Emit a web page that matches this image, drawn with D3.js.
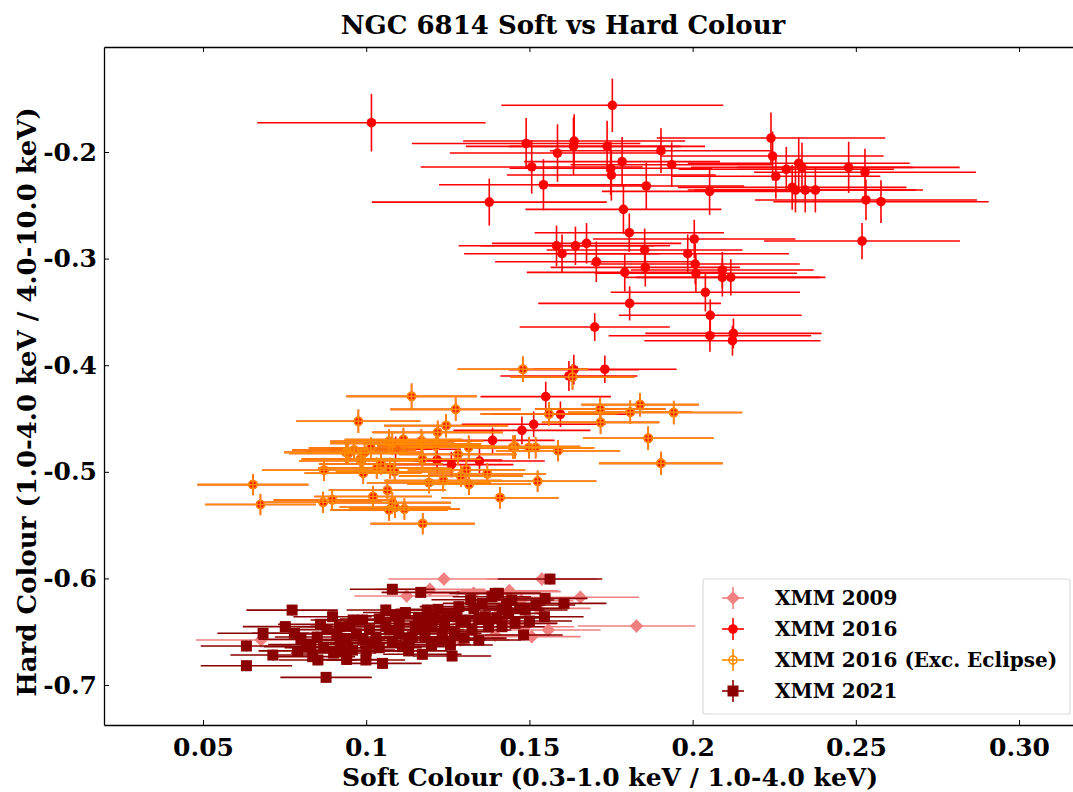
<!DOCTYPE html>
<html>
<head>
<meta charset="utf-8">
<script src="https://cdn.jsdelivr.net/npm/d3@7"></script>
<style>
  body { margin: 0; background: #fff; }
  text { font-family: "DejaVu Serif", serif; font-weight: bold; fill: #000; }
</style>
</head>
<body>
<div id="chart"></div>
<script>
// each point: [soft colour, hard colour, soft err, hard err]
var xmm2009 = [
  [0.1238,-0.6006,0.017,0.006],[0.1124,-0.6165,0.016,0.006],[0.1195,-0.6103,0.017,0.006],
  [0.0678,-0.6578,0.020,0.007],[0.1329,-0.6140,0.016,0.006],[0.1243,-0.6359,0.015,0.006],
  [0.1436,-0.6124,0.016,0.006],[0.1289,-0.6578,0.015,0.006],[0.1395,-0.6531,0.016,0.006],
  [0.1538,-0.6006,0.017,0.006],[0.1439,-0.6115,0.015,0.006],[0.1475,-0.6208,0.016,0.006],
  [0.1656,-0.6177,0.018,0.006],[0.1527,-0.6281,0.016,0.006],[0.1395,-0.6359,0.015,0.006],
  [0.1424,-0.6422,0.016,0.006],[0.1828,-0.6447,0.018,0.006],[0.1507,-0.6546,0.015,0.006],
  [0.1558,-0.6484,0.016,0.006],[0.1487,-0.6453,0.015,0.006]
];

// 2016 points that are not in the eclipse-excluded set
var xmm2016 = [
  [0.1016,-0.1725,0.035,0.027],[0.1490,-0.1920,0.035,0.024],[0.1507,-0.2140,0.034,0.025],
  [0.1543,-0.2307,0.032,0.024],[0.1586,-0.2010,0.033,0.027],[0.1637,-0.1897,0.034,0.025],
  [0.1635,-0.1947,0.033,0.027],[0.1377,-0.2470,0.036,0.022],[0.1583,-0.2880,0.030,0.019],
  [0.1600,-0.2954,0.030,0.018],[0.1641,-0.2880,0.029,0.018],[0.1675,-0.2857,0.029,0.019],
  [0.1705,-0.3030,0.031,0.019],[0.1700,-0.3642,0.023,0.013],[0.1754,-0.1562,0.034,0.025],
  [0.1738,-0.1947,0.030,0.024],[0.1749,-0.2153,0.031,0.025],[0.1751,-0.2216,0.032,0.024],
  [0.1784,-0.2090,0.030,0.023],[0.1903,-0.1988,0.034,0.021],[0.1936,-0.2119,0.031,0.021],
  [0.1858,-0.2319,0.030,0.022],[0.2052,-0.2369,0.033,0.022],[0.1788,-0.2538,0.030,0.023],
  [0.1806,-0.2757,0.029,0.018],[0.2240,-0.1869,0.035,0.024],[0.2245,-0.2038,0.034,0.023],
  [0.2255,-0.2228,0.032,0.021],[0.2287,-0.2162,0.033,0.021],[0.2325,-0.2106,0.034,0.024],
  [0.2335,-0.2144,0.034,0.023],[0.2305,-0.2332,0.035,0.021],[0.2315,-0.2357,0.033,0.021],
  [0.2345,-0.2357,0.034,0.021],[0.2376,-0.2357,0.033,0.021],[0.2478,-0.2144,0.034,0.024],
  [0.2528,-0.2190,0.034,0.022],[0.2531,-0.2450,0.034,0.019],[0.2577,-0.2466,0.033,0.020],
  [0.2519,-0.2835,0.030,0.017],[0.1792,-0.3129,0.030,0.018],[0.1853,-0.2919,0.030,0.020],
  [0.1855,-0.3082,0.029,0.018],[0.1985,-0.2954,0.031,0.018],[0.2005,-0.2816,0.031,0.018],
  [0.2008,-0.3051,0.032,0.019],[0.2010,-0.3138,0.031,0.018],[0.2039,-0.3316,0.029,0.018],
  [0.2091,-0.3107,0.028,0.017],[0.2091,-0.3176,0.030,0.018],[0.2117,-0.3176,0.029,0.017],
  [0.1807,-0.3420,0.028,0.016],[0.2054,-0.3532,0.028,0.015],[0.2053,-0.3723,0.031,0.015],
  [0.2125,-0.3701,0.027,0.014],[0.2122,-0.3770,0.027,0.014],
  [0.1636,-0.4042,0.020,0.014],[0.1621,-0.4101,0.021,0.014],[0.1731,-0.4038,0.022,0.013],
  [0.1550,-0.4295,0.020,0.014],[0.1595,-0.4460,0.021,0.012],[0.1513,-0.4554,0.022,0.012],
  [0.1477,-0.4611,0.021,0.013],[0.1387,-0.4705,0.019,0.012],[0.1347,-0.4899,0.020,0.012],
  [0.1217,-0.4889,0.020,0.012],[0.1261,-0.4933,0.019,0.012],[0.1090,-0.4789,0.020,0.012]
];

// 2016 excluding eclipse
var xmm2016exc = [
  [0.1480,-0.4038,0.020,0.012],[0.1632,-0.4110,0.019,0.012],[0.1560,-0.4458,0.021,0.011],
  [0.1717,-0.4411,0.020,0.011],[0.1718,-0.4536,0.018,0.011],[0.1809,-0.4441,0.019,0.011],
  [0.1839,-0.4370,0.018,0.011],[0.1942,-0.4444,0.021,0.011],[0.1864,-0.4685,0.020,0.011],
  [0.1903,-0.4921,0.019,0.011],[0.1274,-0.4414,0.020,0.011],[0.1245,-0.4567,0.019,0.011],
  [0.1219,-0.4630,0.020,0.011],[0.1314,-0.4770,0.019,0.011],[0.1281,-0.4836,0.018,0.010],
  [0.1449,-0.4770,0.019,0.011],[0.1456,-0.4764,0.020,0.011],[0.1499,-0.4774,0.019,0.010],
  [0.1519,-0.4774,0.018,0.010],[0.1588,-0.4802,0.019,0.010],[0.1307,-0.4980,0.018,0.010],
  [0.1290,-0.5040,0.019,0.010],[0.1371,-0.5018,0.018,0.010],[0.1192,-0.5102,0.019,0.010],
  [0.1236,-0.5083,0.018,0.010],[0.1315,-0.5117,0.019,0.010],[0.1525,-0.5089,0.018,0.010],
  [0.1410,-0.5243,0.018,0.010],[0.1139,-0.4292,0.020,0.012],[0.0976,-0.4526,0.019,0.011],
  [0.1070,-0.4714,0.018,0.011],[0.1080,-0.4733,0.019,0.011],[0.1114,-0.4697,0.018,0.011],
  [0.1169,-0.4711,0.019,0.011],[0.1172,-0.4740,0.018,0.011],[0.1213,-0.4758,0.018,0.011],
  [0.0938,-0.4818,0.019,0.010],[0.0945,-0.4827,0.018,0.010],[0.0963,-0.4795,0.019,0.010],
  [0.0995,-0.4818,0.018,0.010],[0.1014,-0.4777,0.019,0.010],[0.0982,-0.4880,0.018,0.010],
  [0.0984,-0.4896,0.019,0.010],[0.1172,-0.4882,0.018,0.010],[0.1045,-0.4926,0.019,0.010],
  [0.1032,-0.4967,0.018,0.010],[0.1073,-0.4967,0.019,0.010],[0.1087,-0.4999,0.018,0.010],
  [0.0871,-0.4985,0.019,0.010],[0.0991,-0.5013,0.018,0.010],[0.0653,-0.5120,0.017,0.010],
  [0.1065,-0.5173,0.018,0.010],[0.1021,-0.5232,0.018,0.010],[0.0676,-0.5307,0.017,0.010],
  [0.0868,-0.5286,0.018,0.010],[0.0896,-0.5264,0.018,0.010],[0.1080,-0.5289,0.018,0.010],
  [0.1088,-0.5333,0.017,0.010],[0.1070,-0.5358,0.018,0.010],[0.1117,-0.5349,0.017,0.010],
  [0.1173,-0.5486,0.016,0.010]
];

var xmm2021 = [
  [0.1080,-0.6102,0.013,0.005],[0.1167,-0.6131,0.012,0.005],[0.0773,-0.6297,0.014,0.005],
  [0.0684,-0.6515,0.014,0.005],[0.0633,-0.6634,0.014,0.005],[0.0633,-0.6819,0.014,0.005],
  [0.0877,-0.6928,0.014,0.005],[0.0714,-0.6719,0.013,0.005],[0.0752,-0.6452,0.013,0.005],
  [0.0852,-0.6765,0.012,0.005],[0.1050,-0.6797,0.012,0.005],[0.1172,-0.6712,0.012,0.005],
  [0.1258,-0.6625,0.013,0.005],[0.1263,-0.6728,0.012,0.005],[0.1345,-0.6578,0.013,0.005],
  [0.1416,-0.6453,0.013,0.005],[0.1563,-0.6006,0.016,0.005],[0.1548,-0.6187,0.013,0.005],
  [0.1606,-0.6234,0.013,0.005],[0.1546,-0.6359,0.012,0.005],[0.1482,-0.6531,0.012,0.005],
  [0.1395,-0.6140,0.014,0.005],[0.1405,-0.6140,0.013,0.005],[0.1416,-0.6296,0.013,0.005],
  [0.1278,-0.6359,0.012,0.005],[0.0780,-0.6515,0.013,0.005],[0.0816,-0.6640,0.013,0.005],
  [0.0836,-0.6734,0.013,0.005],[0.0897,-0.6359,0.012,0.005],[0.0918,-0.6453,0.013,0.005],
  [0.0938,-0.6578,0.012,0.005],[0.0958,-0.6672,0.013,0.005],[0.0989,-0.6390,0.012,0.005],
  [0.0999,-0.6765,0.012,0.005],[0.1019,-0.6609,0.013,0.005],[0.1060,-0.6296,0.012,0.005],
  [0.1070,-0.6484,0.013,0.005],[0.1101,-0.6421,0.012,0.005],[0.1111,-0.6640,0.013,0.005],
  [0.1141,-0.6547,0.012,0.005],[0.1187,-0.6296,0.013,0.005],[0.1202,-0.6453,0.012,0.005],
  [0.1233,-0.6578,0.013,0.005],[0.1284,-0.6265,0.012,0.005],[0.1304,-0.6390,0.013,0.005],
  [0.1324,-0.6484,0.012,0.005],[0.1365,-0.6359,0.013,0.005],[0.1385,-0.6172,0.012,0.005],
  [0.1446,-0.6203,0.013,0.005],[0.1355,-0.6234,0.012,0.005],[0.1375,-0.6453,0.013,0.005],
  [0.1436,-0.6328,0.012,0.005],[0.1456,-0.6422,0.013,0.005],[0.1233,-0.6515,0.012,0.005],
  [0.1487,-0.6296,0.013,0.005],[0.1345,-0.6375,0.012,0.005],[0.0850,-0.6550,0.013,0.005],
  [0.0880,-0.6480,0.012,0.005],[0.0920,-0.6600,0.013,0.005],[0.0950,-0.6450,0.012,0.005],
  [0.0970,-0.6520,0.013,0.005],[0.1010,-0.6480,0.012,0.005],[0.1030,-0.6550,0.013,0.005],
  [0.1040,-0.6380,0.012,0.005],[0.1080,-0.6600,0.013,0.005],[0.1100,-0.6520,0.012,0.005],
  [0.1120,-0.6320,0.013,0.005],[0.1150,-0.6450,0.012,0.005],[0.1180,-0.6550,0.013,0.005],
  [0.1210,-0.6370,0.012,0.005],[0.1240,-0.6430,0.013,0.005],[0.1270,-0.6500,0.012,0.005],
  [0.1290,-0.6400,0.013,0.005],[0.1330,-0.6280,0.012,0.005],[0.0800,-0.6570,0.013,0.005],
  [0.0790,-0.6680,0.012,0.005],[0.0900,-0.6700,0.013,0.005],[0.0940,-0.6760,0.012,0.005],
  [0.1000,-0.6680,0.013,0.005],[0.1130,-0.6680,0.012,0.005],[0.1160,-0.6370,0.013,0.005],
  [0.1200,-0.6620,0.012,0.005],[0.1470,-0.6280,0.013,0.005],[0.1520,-0.6250,0.012,0.005],
  [0.1500,-0.6400,0.013,0.005],[0.0860,-0.6430,0.013,0.005],[0.0910,-0.6520,0.012,0.005],
  [0.0960,-0.6390,0.013,0.005],[0.0990,-0.6580,0.012,0.005],[0.1040,-0.6650,0.013,0.005],
  [0.1060,-0.6450,0.012,0.005],[0.1090,-0.6350,0.013,0.005],[0.1130,-0.6560,0.012,0.005],
  [0.1170,-0.6480,0.013,0.005],[0.1190,-0.6400,0.012,0.005],[0.1220,-0.6290,0.013,0.005],
  [0.1250,-0.6350,0.012,0.005],[0.1300,-0.6560,0.013,0.005],[0.1320,-0.6200,0.012,0.005],
  [0.1400,-0.6370,0.013,0.005],[0.1430,-0.6250,0.012,0.005],[0.0830,-0.6620,0.013,0.005],
  [0.0870,-0.6650,0.012,0.005],[0.0930,-0.6680,0.013,0.005]
];

var xTicks = [0.05, 0.1, 0.15, 0.2, 0.25, 0.30];
var xTickLabels = ["0.05", "0.1", "0.15", "0.2", "0.25", "0.30"];
var yTicks = [-0.2, -0.3, -0.4, -0.5, -0.6, -0.7];
var yTickLabels = ["-0.2", "-0.3", "-0.4", "-0.5", "-0.6", "-0.7"];
var seriesNames = ["XMM 2009", "XMM 2016", "XMM 2016 (Exc. Eclipse)", "XMM 2021"];
var seriesColors = ["#f08080", "#ff0000", "#ff8c00", "#8b0000"];

var margin = {top: 47, right: 0, bottom: 67, left: 104},
    width = 1116 - margin.left,
    height = 725 - margin.top;

var svg = d3.select("#chart")
  .append("svg")
    .attr("width", 1073)
    .attr("height", 792)
  .append("g")
    .attr("transform", "translate(" + margin.left + "," + margin.top + ")");

var x = d3.scaleLinear().domain([0.01967, 0.3297]).range([0, width]);
var y = d3.scaleLinear().domain([-0.7375, -0.1015]).range([height, 0]);

// error bars and markers for one series
function drawSeries(data, color, marker) {
  var g = svg.append("g");
  g.selectAll(".ex").data(data).enter().append("line")
    .attr("x1", function(d) { return x(d[0] - d[2]); })
    .attr("x2", function(d) { return x(d[0] + d[2]); })
    .attr("y1", function(d) { return y(d[1]); })
    .attr("y2", function(d) { return y(d[1]); })
    .attr("stroke", color).attr("stroke-width", 1.6);
  g.selectAll(".ey").data(data).enter().append("line")
    .attr("x1", function(d) { return x(d[0]); })
    .attr("x2", function(d) { return x(d[0]); })
    .attr("y1", function(d) { return y(d[1] - d[3]); })
    .attr("y2", function(d) { return y(d[1] + d[3]); })
    .attr("stroke", color).attr("stroke-width", 1.6);
  g.selectAll(".m").data(data).enter().append("path")
    .attr("transform", function(d) { return "translate(" + x(d[0]) + "," + y(d[1]) + ")"; })
    .attr("d", marker.d)
    .attr("fill", marker.fill)
    .attr("stroke", marker.stroke)
    .attr("stroke-width", marker.sw);
}

var markers = [
  {d: "M0,-6.8L6.8,0L0,6.8L-6.8,0Z", fill: seriesColors[0], stroke: "none", sw: 0},
  {d: d3.symbol(d3.symbolCircle, Math.PI * 4.8 * 4.8)(), fill: seriesColors[1], stroke: "none", sw: 0},
  {d: d3.symbol(d3.symbolCircle, Math.PI * 4 * 4)(), fill: "none", stroke: seriesColors[2], sw: 1.6},
  {d: "M-5.5,-5.5H5.5V5.5H-5.5Z", fill: seriesColors[3], stroke: "none", sw: 0}
];

drawSeries(xmm2009, seriesColors[0], markers[0]);
drawSeries(xmm2016.concat(xmm2016exc), seriesColors[1], markers[1]);
drawSeries(xmm2016exc, seriesColors[2], markers[2]);
drawSeries(xmm2021, seriesColors[3], markers[3]);

// axes: ticks point inward
var xAxis = svg.append("g")
  .attr("transform", "translate(0," + height + ")")
  .call(d3.axisBottom(x).tickValues(xTicks).tickSizeInner(-5).tickSizeOuter(0)
    .tickFormat(function(d, i) { return xTickLabels[i]; }));
xAxis.selectAll("text").attr("y", 13).attr("dy", "0.71em").style("font-size", "25px");

svg.append("g")
  .call(d3.axisTop(x).tickValues(xTicks).tickSizeInner(-5).tickSizeOuter(0).tickFormat(""));

var yAxis = svg.append("g")
  .call(d3.axisLeft(y).tickValues(yTicks).tickSizeInner(-5).tickSizeOuter(0)
    .tickFormat(function(d, i) { return yTickLabels[i]; }));
yAxis.selectAll("text").attr("x", -7).style("font-size", "25px");

svg.selectAll(".domain").attr("stroke", "#000").attr("stroke-width", 1.3);
svg.selectAll(".tick line").attr("stroke", "#000").attr("stroke-width", 1);

// title and labels
svg.append("text")
  .attr("x", 563 - margin.left).attr("y", 34 - margin.top)
  .attr("text-anchor", "middle").style("font-size", "26px")
  .text("NGC 6814 Soft vs Hard Colour");

svg.append("text")
  .attr("x", 610 - margin.left).attr("y", 786 - margin.top)
  .attr("text-anchor", "middle").style("font-size", "25px")
  .text("Soft Colour (0.3-1.0 keV / 1.0-4.0 keV)");

svg.append("text")
  .attr("transform", "translate(" + (36 - margin.left) + "," + (402 - margin.top) + ") rotate(-90)")
  .attr("text-anchor", "middle").style("font-size", "26px")
  .text("Hard Colour (1.0-4.0 keV / 4.0-10.0 keV)");

// legend
var legend = svg.append("g").attr("transform", "translate(" + (703 - margin.left) + "," + (579 - margin.top) + ")");
legend.append("rect")
  .attr("width", 367).attr("height", 135).attr("rx", 2)
  .attr("fill", "#fff").attr("fill-opacity", 0.8)
  .attr("stroke", "#d9d9d9").attr("stroke-width", 1.2);

var rows = legend.selectAll(".row").data(seriesNames).enter().append("g")
  .attr("transform", function(d, i) { return "translate(30," + (19 + i * 31) + ")"; });
rows.append("line").attr("x1", -11).attr("x2", 11)
  .attr("stroke", function(d, i) { return seriesColors[i]; }).attr("stroke-width", 1.6);
rows.append("line").attr("y1", -11).attr("y2", 11)
  .attr("stroke", function(d, i) { return seriesColors[i]; }).attr("stroke-width", 1.6);
rows.append("path")
  .attr("d", function(d, i) { return markers[i].d; })
  .attr("fill", function(d, i) { return markers[i].fill === "none" ? "#fff" : markers[i].fill; })
  .attr("stroke", function(d, i) { return markers[i].stroke; })
  .attr("stroke-width", function(d, i) { return markers[i].sw; });
rows.filter(function(d, i) { return i === 2; }).append("line")
  .attr("x1", -4).attr("x2", 4).attr("stroke", seriesColors[2]).attr("stroke-width", 1.6);
rows.filter(function(d, i) { return i === 2; }).append("line")
  .attr("y1", -4).attr("y2", 4).attr("stroke", seriesColors[2]).attr("stroke-width", 1.6);
rows.append("text")
  .attr("x", 42).attr("dy", "0.36em").style("font-size", "20px")
  .text(function(d) { return d; });
</script>
</body>
</html>
